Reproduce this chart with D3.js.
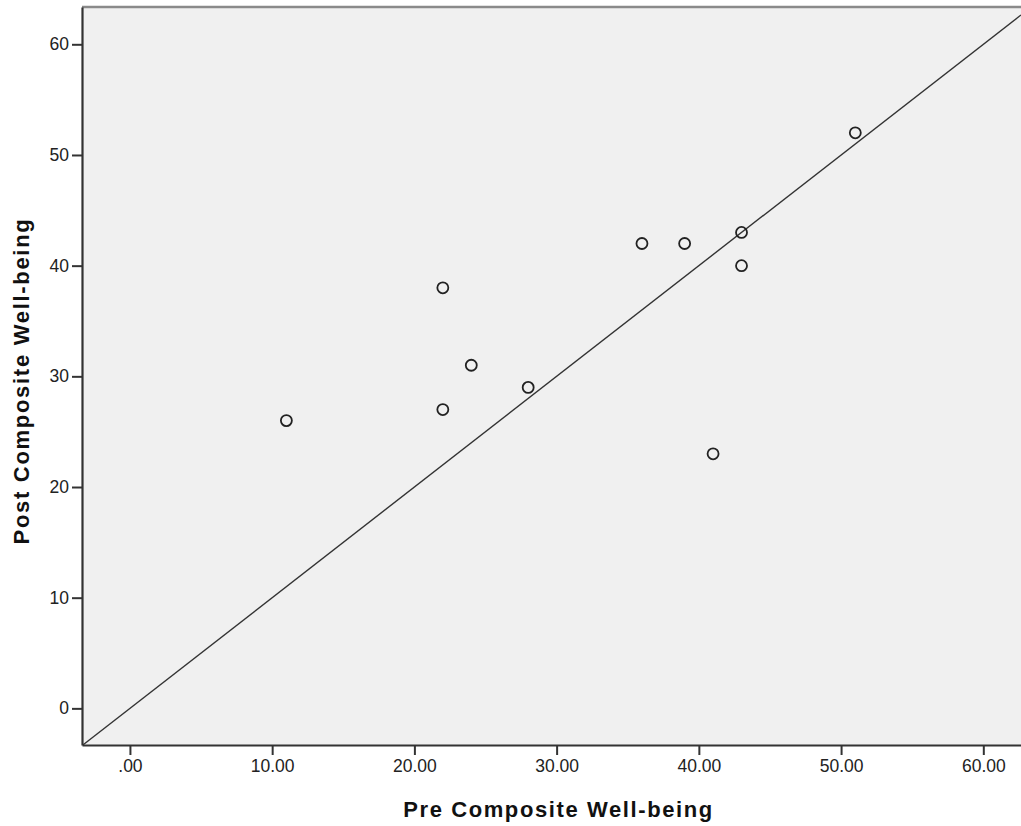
<!DOCTYPE html>
<html>
<head>
<meta charset="utf-8">
<script src="https://cdn.jsdelivr.net/npm/d3@7"></script>
<style>
  body { margin: 0; background: #fff; }
  text { font-family: Arial, "Liberation Sans", sans-serif; }
</style>
</head>
<body>
<svg id="chart"></svg>
<script>
// pre / post composite well-being scores
const preScores = [11, 22, 22, 24, 28, 36, 39, 43, 43, 41, 51];
const postScores = [26, 38, 27, 31, 29, 42, 42, 43, 40, 23, 52];
const xTicks = [0, 10, 20, 30, 40, 50, 60];
const yTicks = [0, 10, 20, 30, 40, 50, 60];

const width = 1021;
const height = 826;
const margin = { top: 7, right: 0, bottom: 80, left: 82 };

const svg = d3.select("#chart").attr("width", width).attr("height", height);

const x = d3.scaleLinear()
  .domain([-3.37, 62.65])
  .range([margin.left, width - margin.right]);
const y = d3.scaleLinear()
  .domain([-3.31, 63.37])
  .range([height - margin.bottom - 1, margin.top]);

// plot background
svg.append("rect")
  .attr("x", margin.left)
  .attr("y", margin.top)
  .attr("width", width - margin.right - margin.left)
  .attr("height", y.range()[0] - margin.top)
  .attr("fill", "#f0f0f0");

// top frame line
svg.append("line")
  .attr("x1", margin.left).attr("x2", width)
  .attr("y1", margin.top).attr("y2", margin.top)
  .attr("stroke", "#8a8a8a")
  .attr("stroke-width", 2.5);

// reference line y = x
const lo = Math.max(x.domain()[0], y.domain()[0]);
const hi = Math.min(x.domain()[1], y.domain()[1]);
svg.append("line")
  .attr("x1", x(lo)).attr("y1", y(lo))
  .attr("x2", x(hi)).attr("y2", y(hi))
  .attr("stroke", "#333")
  .attr("stroke-width", 1.4);

const xAxis = svg.append("g")
  .attr("transform", `translate(0,${y.range()[0]})`)
  .call(d3.axisBottom(x).tickValues(xTicks).tickSize(10).tickSizeOuter(0).tickPadding(5)
    .tickFormat((d) => d === 0 ? ".00" : d3.format(".2f")(d)));

const yAxis = svg.append("g")
  .attr("transform", `translate(${margin.left},0)`)
  .call(d3.axisLeft(y).tickValues(yTicks).tickSize(10).tickSizeOuter(0).tickPadding(3));

[xAxis, yAxis].forEach((g) => {
  g.select(".domain").attr("stroke", "#333").attr("stroke-width", 2.2);
  g.selectAll(".tick line").attr("stroke", "#333").attr("stroke-width", 2);
  g.selectAll(".tick text")
    .style("font-size", "17.5px")
    .style("font-family", "Arial, 'Liberation Sans', sans-serif")
    .attr("fill", "#222");
});

// points
svg.append("g")
  .selectAll("circle")
  .data(preScores.map((d, i) => [d, postScores[i]]))
  .join("circle")
  .attr("cx", (d) => x(d[0]))
  .attr("cy", (d) => y(d[1]))
  .attr("r", 5.5)
  .attr("fill", "none")
  .attr("stroke", "#222")
  .attr("stroke-width", 1.8);

// axis titles
svg.append("text")
  .attr("x", (margin.left + width) / 2 + 7)
  .attr("y", 817)
  .attr("text-anchor", "middle")
  .style("font-size", "22px")
  .style("font-weight", "bold")
  .style("letter-spacing", "1.6px")
  .attr("fill", "#111")
  .text("Pre Composite Well-being");

svg.append("text")
  .attr("transform", `translate(29,${(margin.top + y.range()[0]) / 2 + 5}) rotate(-90)`)
  .attr("text-anchor", "middle")
  .style("font-size", "22px")
  .style("font-weight", "bold")
  .style("letter-spacing", "1.7px")
  .attr("fill", "#111")
  .text("Post Composite Well-being");
</script>
</body>
</html>
